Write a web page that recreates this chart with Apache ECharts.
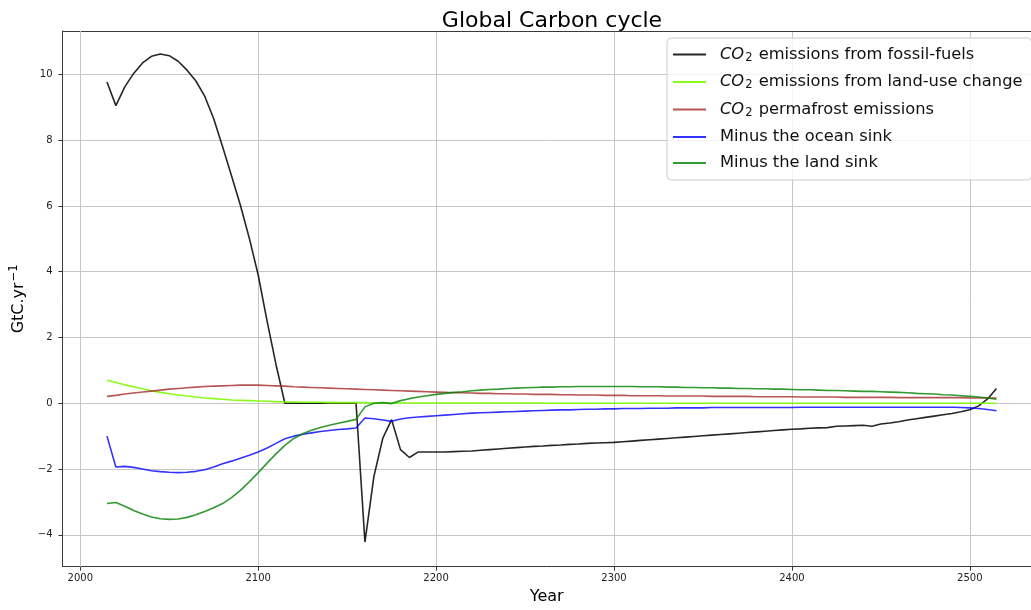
<!DOCTYPE html>
<html>
<head>
<meta charset="utf-8">
<script src="https://cdn.jsdelivr.net/npm/echarts@6/dist/echarts.min.js"></script>
<style>
  html, body { margin: 0; padding: 0; background: #fff; }
  #chart { width: 1031px; height: 610px; }
</style>
</head>
<body>
<div id="chart"></div>
<script>
// Model years (5-year steps)
const years = [
  2015,2020,2025,2030,2035,2040,2045,2050,2055,2060,
  2065,2070,2075,2080,2085,2090,2095,2100,2105,2110,
  2115,2120,2125,2130,2135,2140,2145,2150,2155,2160,
  2165,2170,2175,2180,2185,2190,2195,2200,2205,2210,
  2215,2220,2225,2230,2235,2240,2245,2250,2255,2260,
  2265,2270,2275,2280,2285,2290,2295,2300,2305,2310,
  2315,2320,2325,2330,2335,2340,2345,2350,2355,2360,
  2365,2370,2375,2380,2385,2390,2395,2400,2405,2410,
  2415,2420,2425,2430,2435,2440,2445,2450,2455,2460,
  2465,2470,2475,2480,2485,2490,2495,2500,2505,2510,
  2515
];

// GtC per year
const fossilFuel = [
  9.77,9.05,9.62,10.03,10.35,10.55,10.62,10.57,10.40,10.13,
  9.80,9.33,8.65,7.80,6.92,6.02,5.02,3.90,2.50,1.18,
  0,0,0,0,0,0,0,0,0,-4.22,
  -2.24,-1.07,-0.50,-1.41,-1.65,-1.48,-1.48,-1.48,-1.48,-1.47,
  -1.46,-1.45,-1.43,-1.41,-1.39,-1.37,-1.35,-1.33,-1.31,-1.30,
  -1.28,-1.27,-1.25,-1.24,-1.22,-1.21,-1.20,-1.19,-1.17,-1.15,
  -1.13,-1.11,-1.09,-1.07,-1.05,-1.03,-1.01,-0.99,-0.97,-0.95,
  -0.93,-0.91,-0.89,-0.87,-0.85,-0.83,-0.81,-0.79,-0.78,-0.76,
  -0.75,-0.74,-0.70,-0.69,-0.68,-0.67,-0.70,-0.63,-0.60,-0.56,
  -0.51,-0.47,-0.43,-0.39,-0.35,-0.31,-0.26,-0.20,-0.08,0.13,
  0.45
];

const landUse = [
  0.70,0.63,0.56,0.50,0.44,0.38,0.33,0.29,0.25,0.22,
  0.19,0.16,0.14,0.12,0.10,0.09,0.08,0.07,0.06,0.05,
  0.04,0.04,0.03,0.03,0.03,0.02,0.02,0.02,0.02,0.02,
  0.01,0.01,0.01,0.01,0.01,0.01,0.01,0.01,0.01,0.01,
  0.01,0.01,0.01,0.01,0.01,0.01,0.01,0.01,0.01,0.01,
  0.00,0.00,0.00,0.00,0.00,0.00,0.00,0.00,0.00,0.00,
  0.00,0.00,0.00,0.00,0.00,0.00,0.00,0.00,0.00,0.00,
  0.00,0.00,0.00,0.00,0.00,0.00,0.00,0.00,0.00,0.00,
  0.00,0.00,0.00,0.00,0.00,0.00,0.00,0.00,0.00,0.00,
  0.00,0.00,0.00,0.00,0.00,0.00,0.00,0.00,0.00,0.00,
  0.00
];

const permafrost = [
  0.21,0.24,0.28,0.31,0.34,0.37,0.40,0.43,0.45,0.47,
  0.49,0.51,0.52,0.53,0.54,0.55,0.55,0.55,0.54,0.53,
  0.52,0.50,0.49,0.48,0.47,0.46,0.45,0.44,0.43,0.42,
  0.41,0.40,0.39,0.38,0.37,0.36,0.35,0.34,0.33,0.32,
  0.32,0.31,0.30,0.30,0.29,0.29,0.28,0.28,0.27,0.27,
  0.27,0.26,0.26,0.25,0.25,0.25,0.24,0.24,0.24,0.23,
  0.23,0.23,0.23,0.22,0.22,0.22,0.22,0.22,0.21,0.21,
  0.21,0.21,0.21,0.20,0.20,0.20,0.20,0.20,0.19,0.19,
  0.19,0.19,0.19,0.18,0.18,0.18,0.18,0.18,0.18,0.17,
  0.17,0.17,0.17,0.17,0.17,0.17,0.17,0.16,0.16,0.16,
  0.16
];

const oceanSink = [
  -1.00,-1.94,-1.92,-1.95,-2.00,-2.05,-2.08,-2.10,-2.11,-2.10,
  -2.07,-2.02,-1.94,-1.84,-1.76,-1.67,-1.58,-1.48,-1.36,-1.22,
  -1.08,-1.00,-0.94,-0.90,-0.86,-0.83,-0.80,-0.78,-0.75,-0.45,
  -0.47,-0.51,-0.55,-0.48,-0.44,-0.42,-0.40,-0.38,-0.36,-0.34,
  -0.32,-0.30,-0.29,-0.28,-0.27,-0.26,-0.25,-0.24,-0.23,-0.22,
  -0.21,-0.20,-0.20,-0.19,-0.18,-0.18,-0.17,-0.17,-0.16,-0.16,
  -0.16,-0.15,-0.15,-0.15,-0.14,-0.14,-0.14,-0.14,-0.13,-0.13,
  -0.13,-0.13,-0.13,-0.13,-0.13,-0.13,-0.13,-0.13,-0.12,-0.12,
  -0.12,-0.12,-0.12,-0.12,-0.12,-0.12,-0.12,-0.12,-0.12,-0.12,
  -0.12,-0.12,-0.12,-0.12,-0.12,-0.12,-0.13,-0.14,-0.16,-0.19,
  -0.23
];

const landSink = [
  -3.05,-3.02,-3.13,-3.26,-3.37,-3.46,-3.51,-3.53,-3.52,-3.47,
  -3.39,-3.29,-3.18,-3.05,-2.87,-2.65,-2.39,-2.11,-1.82,-1.54,
  -1.28,-1.07,-0.93,-0.82,-0.74,-0.67,-0.61,-0.55,-0.49,-0.11,
  0.00,0.02,-0.01,0.08,0.14,0.19,0.23,0.27,0.30,0.33,
  0.35,0.38,0.40,0.42,0.43,0.45,0.46,0.47,0.48,0.49,
  0.49,0.50,0.50,0.51,0.51,0.51,0.51,0.51,0.51,0.51,
  0.50,0.50,0.50,0.49,0.49,0.48,0.48,0.47,0.47,0.46,
  0.46,0.45,0.45,0.44,0.44,0.43,0.43,0.42,0.41,0.41,
  0.40,0.39,0.39,0.38,0.37,0.36,0.36,0.35,0.34,0.33,
  0.32,0.30,0.29,0.28,0.26,0.25,0.23,0.21,0.19,0.16,
  0.12
];

const seriesNames = [
  'CO2 emissions from fossil-fuels',
  'CO2 emissions from land-use change',
  'CO2 permafrost emissions',
  'Minus the ocean sink',
  'Minus the land sink'
];
const seriesColors = [
  'rgba(0,0,0,0.85)',
  'rgba(124,252,0,0.9)',
  'rgba(165,42,42,0.8)',
  'rgba(0,0,255,0.8)',
  'rgba(0,128,0,0.8)'
];
const seriesValues = [fossilFuel, landUse, permafrost, oceanSink, landSink];

const xTicks = [2000, 2100, 2200, 2300, 2400, 2500];
const yTicks = [-4, -2, 0, 2, 4, 6, 8, 10];

const FONT = 'DejaVu Sans';
const X_MIN = 1990;
const X_MAX = 2534.4;
const GRID_COLOR = '#c6c6c6';
const SPINE = { show: true, onZero: false, lineStyle: { color: '#3a3a3a', width: 1 } };

const chart = echarts.init(document.getElementById('chart'), null, { renderer: 'canvas' });

const series = seriesNames.map((name, i) => ({
  name: name,
  type: 'line',
  xAxisIndex: 0,
  data: years.map((y, k) => [y, seriesValues[i][k]]),
  showSymbol: false,
  symbol: 'none',
  color: seriesColors[i],
  lineStyle: { color: seriesColors[i], width: 1.6 },
  emphasis: { disabled: true },
  z: 3 + i
}));

// vertical grid line at the first x tick
series[0].markLine = {
  silent: true,
  symbol: ['none', 'none'],
  label: { show: false },
  lineStyle: { color: GRID_COLOR, width: 1, type: 'solid' },
  emphasis: { disabled: true },
  z: 1,
  data: [{ xAxis: xTicks[0] }]
};

const legendRich = {
  it: { fontFamily: FONT, fontSize: 16.3, fontStyle: 'italic', color: '#111', padding: [3, 0, 3, 9] },
  sub: { fontFamily: FONT, fontSize: 11.5, color: '#111', padding: [7, 1, 0, 1] },
  t: { fontFamily: FONT, fontSize: 16.3, color: '#111', padding: [3, 0, 3, 0] },
  tf: { fontFamily: FONT, fontSize: 16.3, color: '#111', padding: [0, 0, 0, 9] }
};

const option = {
  animation: false,
  backgroundColor: '#ffffff',
  title: {
    text: 'Global Carbon cycle',
    left: 547,
    textAlign: 'center',
    top: 5,
    textStyle: { fontFamily: FONT, fontSize: 22, fontWeight: 'normal', color: '#000' }
  },
  grid: {
    left: 62.5,
    top: 31,
    right: 0,
    height: 535.7,
    show: false
  },
  legend: {
    orient: 'vertical',
    left: 667,
    top: 38,
    padding: [8.5, 9, 9, 6],
    itemGap: 10,
    itemWidth: 33,
    itemHeight: 2,
    icon: 'rect',
    selectedMode: false,
    backgroundColor: 'rgba(255,255,255,0.8)',
    borderColor: '#cccccc',
    borderWidth: 1,
    borderRadius: 4,
    data: seriesNames,
    formatter: function (name) {
      if (name.indexOf('CO2') === 0) {
        return '{it|CO}{sub|2}{t|' + name.slice(3) + '}';
      }
      return '{tf|' + name + '}';
    },
    textStyle: { rich: legendRich }
  },
  xAxis: [{
    type: 'value',
    position: 'bottom',
    min: X_MIN,
    max: X_MAX,
    name: 'Year',
    nameLocation: 'middle',
    nameGap: 22,
    nameTextStyle: { fontFamily: FONT, fontSize: 16, color: '#000' },
    axisLine: SPINE,
    axisTick: { show: true, customValues: xTicks, length: 4, lineStyle: { color: '#333', width: 1 } },
    axisLabel: {
      customValues: xTicks,
      margin: 7,
      fontFamily: FONT,
      fontSize: 10,
      color: '#222',
      formatter: function (v) { return String(v); }
    },
    splitLine: { show: true, showMinLine: true, showMaxLine: true, lineStyle: { color: GRID_COLOR, width: 1 } }
  }, {
    // top spine of the plotting frame
    type: 'value',
    position: 'top',
    min: X_MIN,
    max: X_MAX,
    axisLine: SPINE,
    axisTick: { show: false },
    axisLabel: { show: false },
    splitLine: { show: false }
  }],
  yAxis: {
    type: 'value',
    min: -4.97,
    max: 11.32,
    name: '{a|GtC.yr}{s|−1}',
    nameLocation: 'middle',
    nameRotate: 90,
    nameGap: 29,
    nameTextStyle: {
      rich: {
        a: { fontFamily: FONT, fontSize: 16, color: '#000' },
        s: { fontFamily: FONT, fontSize: 11.5, color: '#000', padding: [0, 0, 9, 1] }
      }
    },
    axisLine: SPINE,
    axisTick: { show: true, customValues: yTicks, length: 4, lineStyle: { color: '#333', width: 1 } },
    axisLabel: {
      customValues: yTicks,
      margin: 10,
      fontFamily: FONT,
      fontSize: 10,
      color: '#222',
      formatter: function (v) { return v < 0 ? '−' + Math.abs(v) : String(v); }
    },
    splitLine: { show: true, showMinLine: true, showMaxLine: true, lineStyle: { color: GRID_COLOR, width: 1 } }
  },
  series: series
};

chart.setOption(option);
</script>
</body>
</html>
